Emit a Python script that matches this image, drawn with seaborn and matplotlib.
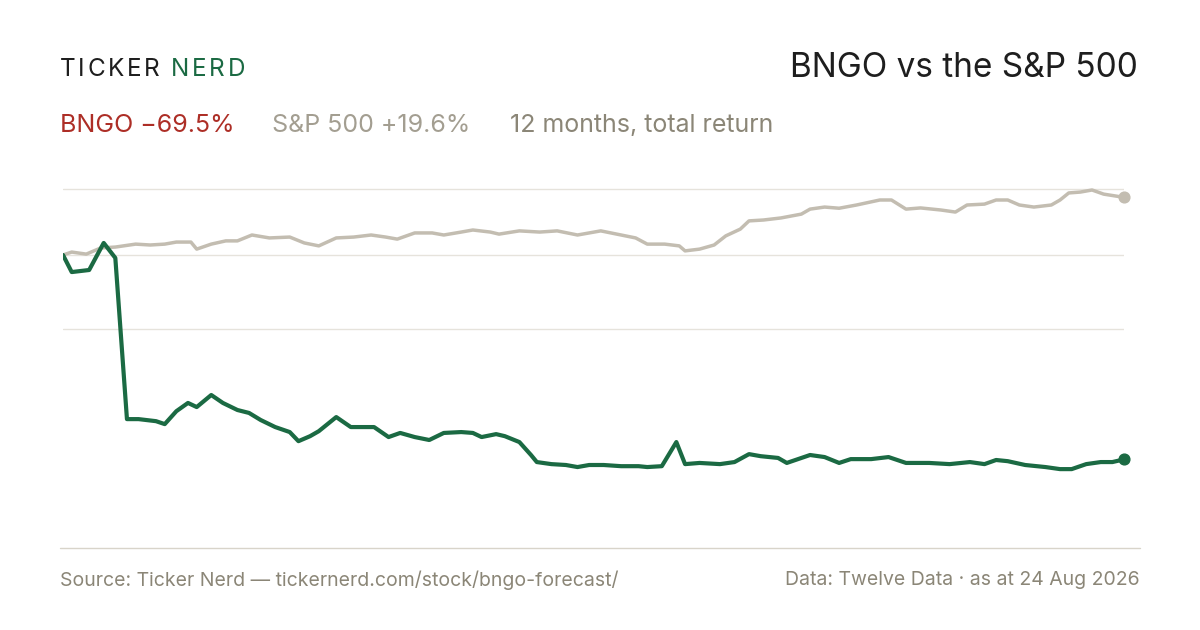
import matplotlib
matplotlib.use("Agg")
import matplotlib.pyplot as plt
import seaborn as sns
import pandas as pd

# BNGO total return (%) by day over 12 months
bngo_days = [0, 3, 9, 14, 18, 22, 26, 32, 35, 39, 43, 46, 51, 55, 60, 64, 68, 73, 78, 81, 85, 88, 94, 99,
             107, 112, 116, 121, 126, 131, 137, 141, 144, 149, 152, 157, 161, 163, 168, 173, 177, 181, 186,
             192, 198, 201, 206, 211, 214, 219, 226, 231, 236, 240, 246, 249, 257, 262, 267, 271, 278, 284,
             290, 298, 305, 312, 317, 321, 325, 331, 338, 343, 347, 352, 357, 361, 365]
bngo_ret = [0, -5.8, -5.1, 4.1, -1.0, -55.8, -55.8, -56.5, -57.5, -53.1, -50.3, -51.7, -47.6, -50.3, -52.7,
            -53.7, -56.1, -58.5, -60.2, -63.3, -61.6, -59.9, -55.1, -58.5, -58.5, -61.9, -60.5, -61.9, -62.9,
            -60.5, -60.2, -60.5, -61.9, -60.9, -61.6, -63.6, -68.0, -70.4, -71.1, -71.4, -72.1, -71.4, -71.4,
            -71.8, -71.8, -72.1, -71.8, -63.6, -71.1, -70.7, -71.1, -70.4, -67.7, -68.4, -69.0, -70.7, -68.0,
            -68.7, -70.7, -69.4, -69.4, -68.7, -70.7, -70.7, -71.1, -70.4, -71.1, -69.7, -70.1, -71.4, -72.1,
            -72.8, -72.8, -71.1, -70.4, -70.4, -69.5]

spx_days = [0, 3, 8, 13, 18, 25, 30, 35, 39, 44, 46, 51, 56, 60, 65, 71, 78, 83, 88, 94, 100, 106, 111, 115,
            121, 127, 131, 137, 141, 147, 150, 157, 164, 170, 177, 185, 192, 197, 201, 207, 212, 214, 219, 224,
            228, 233, 236, 241, 247, 254, 257, 262, 267, 273, 281, 285, 290, 295, 302, 307, 311, 317, 321, 325,
            329, 334, 340, 343, 346, 350, 354, 358, 365]
spx_ret = [0, 1.0, 0.3, 2.4, 2.7, 3.7, 3.4, 3.7, 4.4, 4.4, 2.0, 3.7, 4.8, 4.8, 6.8, 5.8, 6.1, 4.1, 3.1, 5.8,
           6.1, 6.8, 6.1, 5.4, 7.5, 7.5, 6.8, 7.8, 8.5, 7.8, 7.1, 8.2, 7.8, 8.2, 6.8, 8.2, 6.8, 5.8, 3.7, 3.7,
           3.1, 1.4, 2.0, 3.4, 6.5, 8.8, 11.6, 11.9, 12.6, 13.9, 15.6, 16.3, 15.9, 17.0, 18.7, 18.7, 15.6, 16.0,
           15.3, 14.6, 17.0, 17.3, 18.7, 18.7, 17.0, 16.3, 17.0, 18.7, 21.1, 21.4, 22.1, 20.7, 19.6]

grid_levels = [22.4, 0, -25]

GREEN = "#1b6a43"
SPX = "#c3bdb1"
RED = "#ad2e26"
MUTED = "#8b8677"
FONT = ["Inter", "DejaVu Sans"]

sns.set_theme(style="white")
plt.rcParams["font.family"] = FONT

fig = plt.figure(figsize=(12, 6.3), dpi=100)
ax = fig.add_axes([63 / 1200, 1 - 530 / 630, 1061 / 1200, 355 / 630])

for g in grid_levels:
    ax.axhline(g, color="#e6e3dc", lw=1, zorder=0)

spx = pd.DataFrame({"day": spx_days, "ret": spx_ret})
bngo = pd.DataFrame({"day": bngo_days, "ret": bngo_ret})
sns.lineplot(data=spx, x="day", y="ret", ax=ax, color=SPX, lw=2.5)
sns.lineplot(data=bngo, x="day", y="ret", ax=ax, color=GREEN, lw=3)
ax.scatter([spx_days[-1]], [spx_ret[-1]], color=SPX, s=60, zorder=5, clip_on=False)
ax.scatter([bngo_days[-1]], [bngo_ret[-1]], color=GREEN, s=60, zorder=5, clip_on=False)

ax.set_xlim(0, 365)
ax.set_ylim(-93.5, 27.2)
ax.axis("off")

# logo with letter spacing
renderer = fig.canvas.get_renderer()
x = 60
for word, col, gap in [("TICKER", "#1e1e1e", 9), ("NERD", GREEN, 0)]:
    for ch in word:
        t = fig.text(x / 1200, 1 - 70 / 630, ch, fontsize=17.5, color=col, va="center")
        x += t.get_window_extent(renderer).width + 2.6
    x += gap

fig.text(1138 / 1200, 1 - 68 / 630, "BNGO vs the S&P 500", fontsize=24, color="#1e1e1e", ha="right", va="center")
fig.text(60 / 1200, 1 - 125 / 630, "BNGO \u221269.5%", fontsize=18, color=RED, va="center")
fig.text(272 / 1200, 1 - 125 / 630, "S&P 500 +19.6%", fontsize=18, color="#a39e91", va="center")
fig.text(510 / 1200, 1 - 125 / 630, "12 months, total return", fontsize=18, color=MUTED, va="center")

fig.add_artist(plt.Line2D([60 / 1200, 1140 / 1200], [1 - 548 / 630] * 2, color="#d8d4ca", lw=1))
fig.text(60 / 1200, 1 - 580 / 630, "Source: Ticker Nerd \u2014 tickernerd.com/stock/bngo-forecast/",
         fontsize=14, color=MUTED, va="center")
fig.text(1140 / 1200, 1 - 580 / 630, "Data: Twelve Data \u00b7 as at 24 Aug 2026",
         fontsize=14, color=MUTED, va="center", ha="right")

fig.savefig("out.png", dpi=100, facecolor="white")
